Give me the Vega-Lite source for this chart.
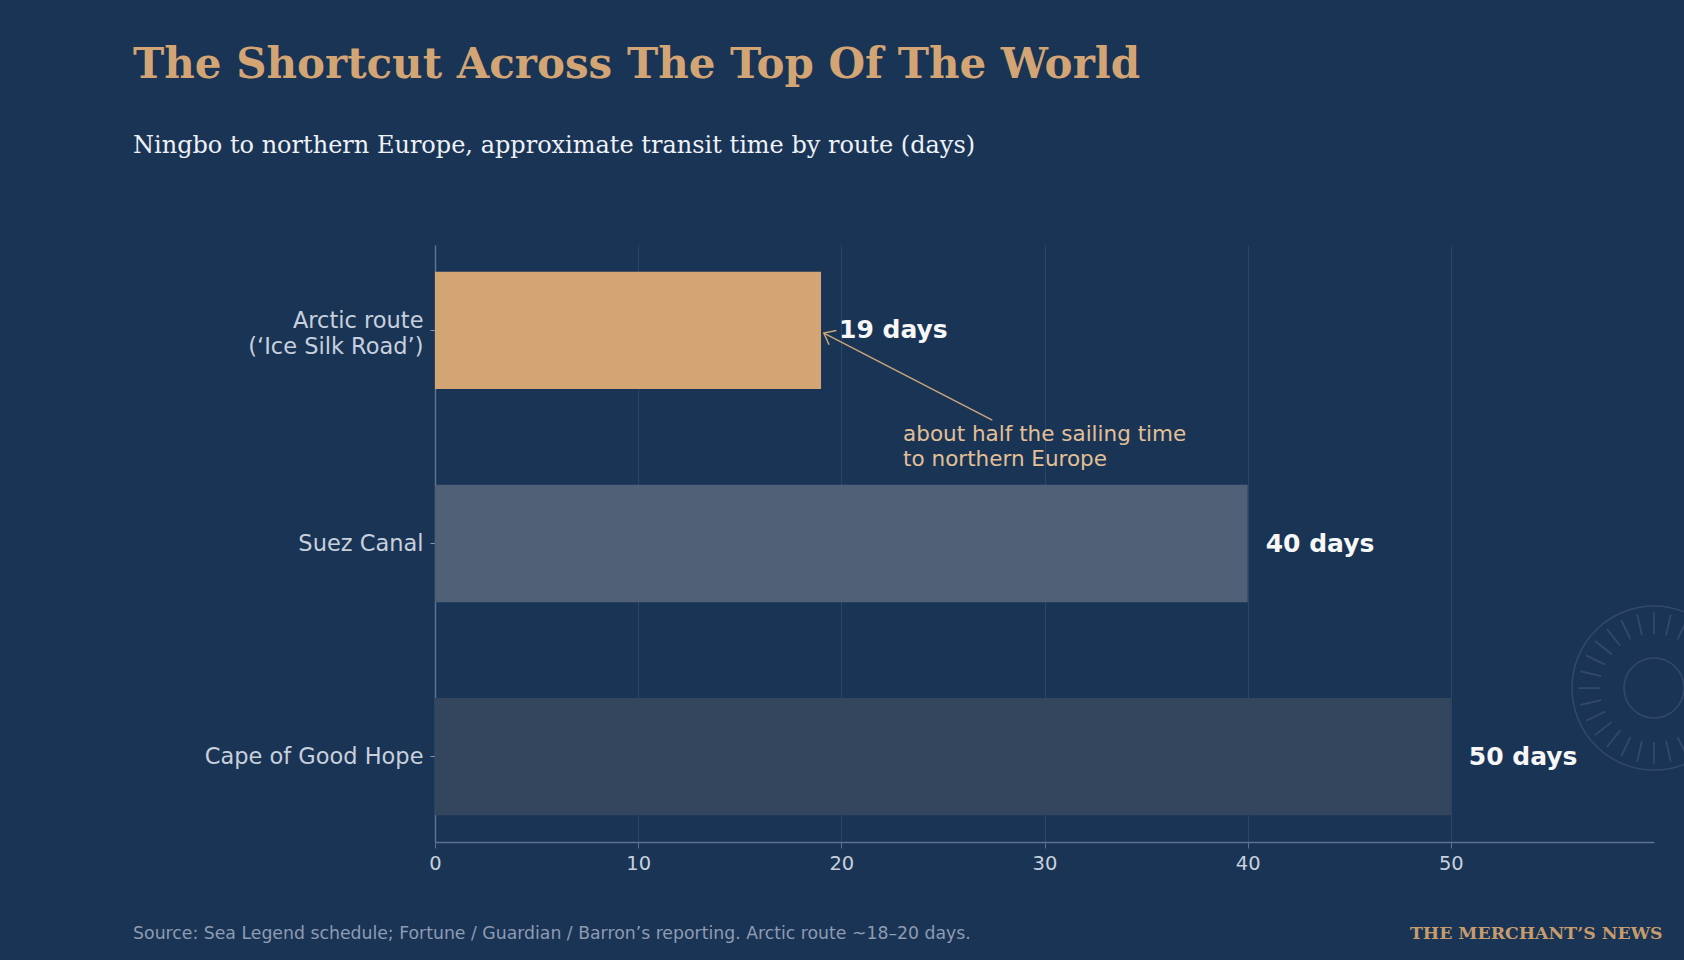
{
  "$schema": "https://vega.github.io/schema/vega-lite/v6.json",
  "width": 1219,
  "height": 597,
  "autosize": {"type": "none"},
  "padding": {"left": 435, "top": 245, "right": 30, "bottom": 118},
  "background": "#1a3456",
  "title": {
    "text": "The Shortcut Across The Top Of The World",
    "subtitle": "Ningbo to northern Europe, approximate transit time by route (days)",
    "anchor": "start",
    "frame": "group",
    "dx": -302,
    "offset": 86,
    "font": "DejaVu Serif",
    "fontSize": 42,
    "fontWeight": "bold",
    "color": "#d4a574",
    "subtitleFont": "DejaVu Serif",
    "subtitleFontSize": 24,
    "subtitleColor": "#eef1f6",
    "subtitlePadding": 47
  },
  "config": {
    "view": {"stroke": null},
    "font": "DejaVu Sans"
  },
  "data": {
    "values": [
      {"route": "Arctic route\n(‘Ice Silk Road’)", "days": 19, "label": "19 days"},
      {"route": "Suez Canal", "days": 40, "label": "40 days"},
      {"route": "Cape of Good Hope", "days": 50, "label": "50 days"}
    ]
  },
  "layer": [
    {
      "layer": [
        {
          "mark": {"type": "bar"},
          "encoding": {
            "x": {
              "field": "days",
              "type": "quantitative",
              "scale": {"domain": [0, 60], "nice": false},
              "axis": {
                "values": [0, 10, 20, 30, 40, 50],
                "title": null,
                "grid": true,
                "gridColor": "#2c4567",
                "gridWidth": 1,
                "domainColor": "#5d7190",
                "domainWidth": 1.5,
                "tickColor": "#5d7190",
                "tickSize": 6,
                "labelColor": "#c7d0dc",
                "labelFontSize": 19.5,
                "labelPadding": 6,
                "labelFlush": false
              }
            },
            "y": {
              "field": "route",
              "type": "nominal",
              "sort": null,
              "scale": {"paddingInner": 0.45, "paddingOuter": 0.125},
              "axis": {
                "title": null,
                "labelExpr": "split(datum.value, '\\n')",
                "labelColor": "#c7d0dc",
                "labelFontSize": 22.5,
                "labelLineHeight": 26,
                "labelLimit": 0,
                "labelOffset": {"condition": {"test": "indexof(datum.value, '\\n') >= 0", "value": -9}, "value": 0},
                "labelPadding": 7,
                "tickSize": 5,
                "tickColor": "#8593a8",
                "domainColor": "#5d7190",
                "domainWidth": 1.5
              }
            },
            "color": {
              "field": "route",
              "type": "nominal",
              "scale": {
                "domain": ["Arctic route\n(‘Ice Silk Road’)", "Suez Canal", "Cape of Good Hope"],
                "range": ["#d4a574", "#4f6077", "#33465d"]
              },
              "legend": null
            }
          }
        },
        {
          "mark": {"type": "text", "align": "left", "baseline": "middle", "dx": 18, "fontSize": 25, "fontWeight": "bold", "color": "#f7f7f7"},
          "encoding": {
            "x": {"field": "days", "type": "quantitative"},
            "y": {"field": "route", "type": "nominal", "sort": null},
            "text": {"field": "label"}
          }
        }
      ]
    },
    {
      "data": {"values": [{}]},
      "layer": [
        {
          "mark": {"type": "rule", "color": "#c9a57a", "strokeWidth": 1.5},
          "encoding": {
            "x": {"datum": 27.43, "type": "quantitative"},
            "x2": {"datum": 19.14},
            "y": {"datum": 0.421, "type": "quantitative", "scale": {"domain": [-0.4, 2.4], "reverse": true, "nice": false, "zero": false}, "axis": null},
            "y2": {"datum": 0.013}
          }
        },
        {
          "mark": {"type": "point", "shape": "M-1,-0.8L0,0L-1,0.8", "filled": false, "stroke": "#c9a57a", "strokeWidth": 1.5, "size": 400, "angle": 207.3, "opacity": 1},
          "encoding": {
            "x": {"datum": 19.14, "type": "quantitative"},
            "y": {"datum": 0.013, "type": "quantitative"}
          }
        },
        {
          "mark": {"type": "text", "align": "left", "baseline": "alphabetic", "fontSize": 21.5, "lineHeight": 25, "color": "#e2c096"},
          "encoding": {
            "x": {"datum": 23.04, "type": "quantitative"},
            "y": {"datum": 0.521, "type": "quantitative"},
            "text": {"value": ["about half the sailing time", "to northern Europe"]}
          }
        },
        {
          "mark": {"type": "text", "align": "left", "baseline": "alphabetic", "fontSize": 17.3, "color": "#8e9bb1"},
          "encoding": {
            "x": {"datum": -14.86, "type": "quantitative"},
            "y": {"datum": 2.853, "type": "quantitative"},
            "text": {"value": "Source: Sea Legend schedule; Fortune / Guardian / Barron’s reporting. Arctic route ~18–20 days."}
          }
        },
        {
          "mark": {"type": "text", "align": "right", "baseline": "alphabetic", "font": "DejaVu Serif", "fontWeight": "bold", "fontSize": 17.3, "color": "#c79c6c"},
          "encoding": {
            "x": {"datum": 60.42, "type": "quantitative"},
            "y": {"datum": 2.853, "type": "quantitative"},
            "text": {"value": "THE MERCHANT’S NEWS"}
          }
        },
        {
          "mark": {"type": "point", "shape": "circle", "filled": false, "stroke": "#33496b", "strokeWidth": 1.5, "size": 26896, "opacity": 1},
          "encoding": {
            "x": {"datum": 60, "type": "quantitative"},
            "y": {"datum": 1.678, "type": "quantitative"}
          }
        },
        {
          "mark": {"type": "point", "shape": "circle", "filled": false, "stroke": "#33496b", "strokeWidth": 1.5, "size": 3600, "opacity": 1},
          "encoding": {
            "x": {"datum": 60, "type": "quantitative"},
            "y": {"datum": 1.678, "type": "quantitative"}
          }
        },
        {
          "mark": {
            "type": "point",
            "shape": "M.66,0L.92,0M.643,.147L.897,.205M.595,.286L.829,.399M.516,.412L.719,.574M.412,.516L.574,.719M.286,.595L.399,.829M.147,.643L.205,.897M0,.66L0,.92M-.147,.643L-.205,.897M-.286,.595L-.399,.829M-.412,.516L-.574,.719M-.516,.412L-.719,.574M-.595,.286L-.829,.399M-.643,.147L-.897,.205M-.66,0L-.92,0M-.643,-.147L-.897,-.205M-.595,-.286L-.829,-.399M-.516,-.412L-.719,-.574M-.412,-.516L-.574,-.719M-.286,-.595L-.399,-.829M-.147,-.643L-.205,-.897M0,-.66L0,-.92M.147,-.643L.205,-.897M.286,-.595L.399,-.829M.412,-.516L.574,-.719M.516,-.412L.719,-.574M.595,-.286L.829,-.399M.643,-.147L.897,-.205",
            "filled": false,
            "stroke": "#33496b",
            "strokeWidth": 1.8,
            "size": 26896,
            "opacity": 1
          },
          "encoding": {
            "x": {"datum": 60, "type": "quantitative"},
            "y": {"datum": 1.678, "type": "quantitative"}
          }
        }
      ]
    }
  ],
  "resolve": {"scale": {"y": "independent"}}
}
